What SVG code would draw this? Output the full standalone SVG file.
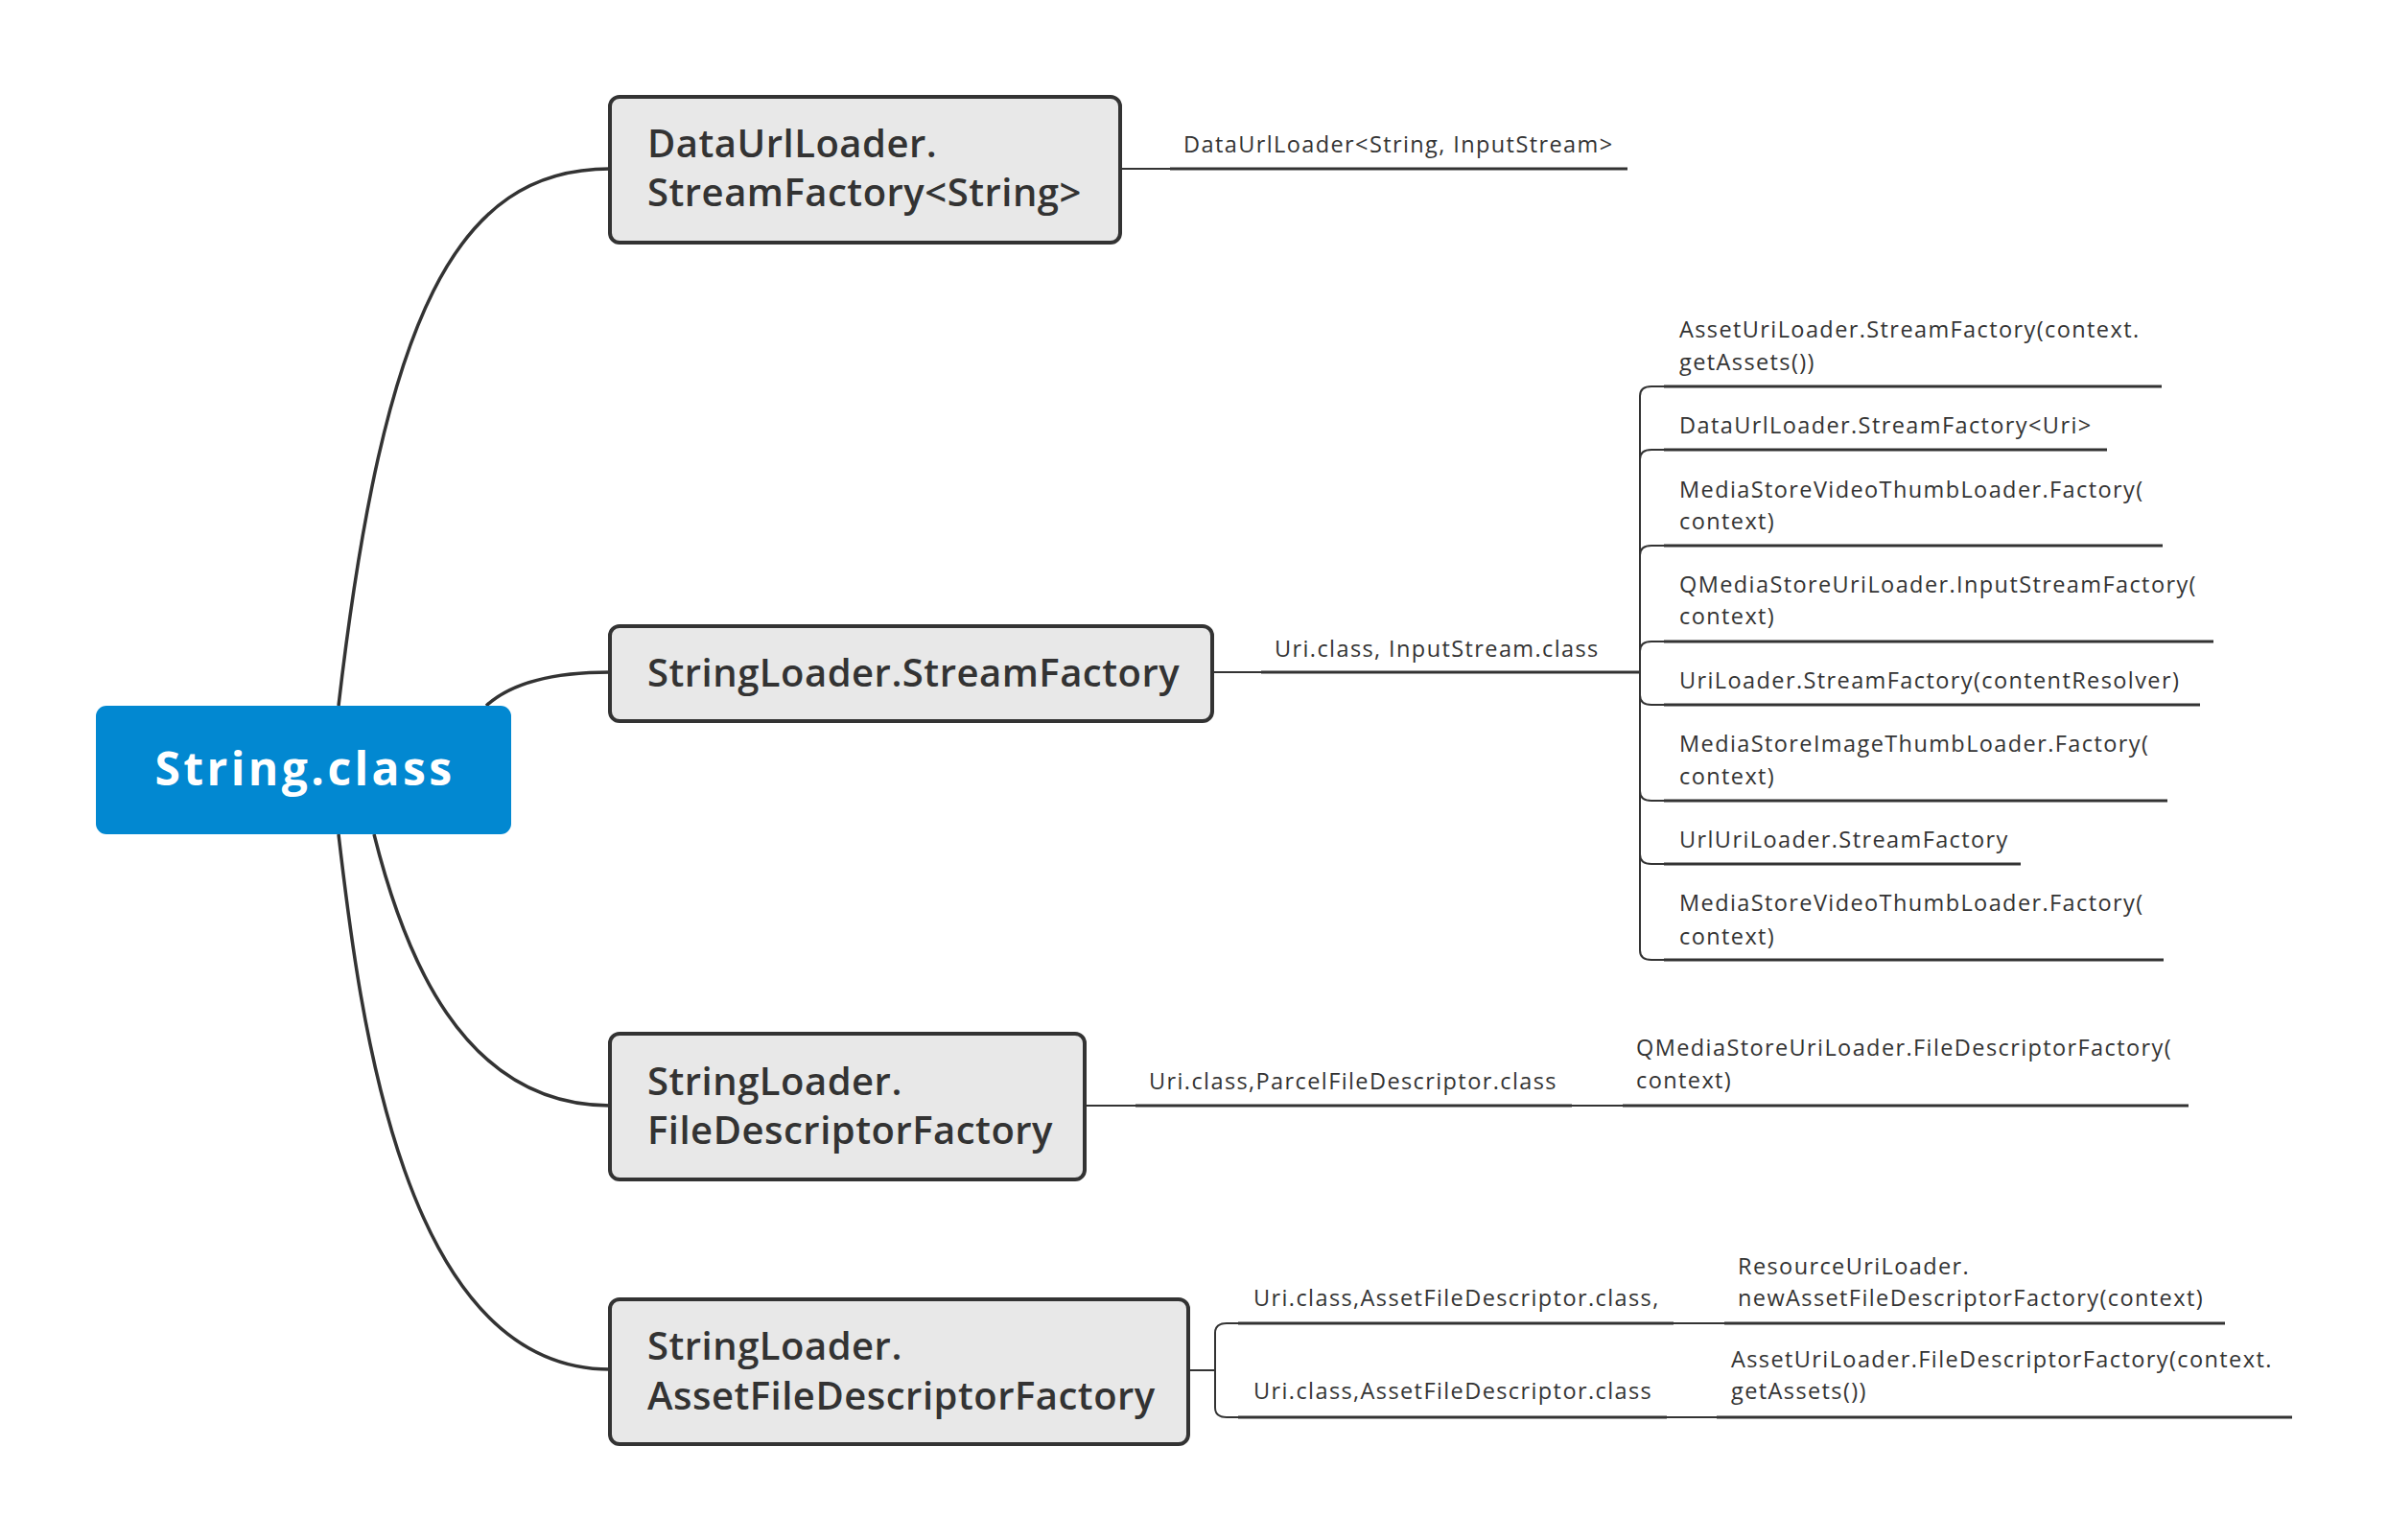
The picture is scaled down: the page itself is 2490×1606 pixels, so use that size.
<svg xmlns="http://www.w3.org/2000/svg" width="2490" height="1606" viewBox="0 0 2490 1606">
<style>
.node rect{fill:#e8e8e8;stroke:#333;stroke-width:4}
.nt{font-family:"Open Sans","Noto Sans",sans-serif;font-size:40px;font-weight:600;letter-spacing:0.5px;fill:#333}
.rt{font-family:"Open Sans","Noto Sans",sans-serif;font-size:48px;font-weight:700;letter-spacing:3.4px;fill:#fff}
.lt{font-family:"Open Sans","Noto Sans",sans-serif;font-size:23.5px;letter-spacing:1.4px;fill:#333}
.main{fill:none;stroke:#333;stroke-width:3.5}
.thin{fill:none;stroke:#333;stroke-width:2}
.ul{fill:none;stroke:#333;stroke-width:3}
</style>
<rect width="2490" height="1606" fill="#fff"/>
<g id="connectors">
<path class="main" d="M353,736 C400,330 475,176 636,176"/>
<path class="main" d="M507,736 Q545,701 636,701"/>
<path class="main" d="M390,870 C420,990 480,1153 636,1153"/>
<path class="main" d="M353,870 C375,1060 420,1428 636,1428"/>
<path class="thin" d="M1168,176 H1220"/>
<path class="ul" d="M1220,176 H1697"/>
<path class="thin" d="M1264,701 H1315"/>
<path class="ul" d="M1315,701 H1710"/>
<path class="thin" d="M1710,701 V413 Q1710,403 1722,403 H1735"/>
<path class="thin" d="M1710,701 V479 Q1710,469 1722,469 H1735"/>
<path class="thin" d="M1710,701 V579 Q1710,569 1722,569 H1735"/>
<path class="thin" d="M1710,701 V679 Q1710,669 1722,669 H1735"/>
<path class="thin" d="M1710,701 V725 Q1710,735 1722,735 H1735"/>
<path class="thin" d="M1710,701 V825 Q1710,835 1722,835 H1735"/>
<path class="thin" d="M1710,701 V891 Q1710,901 1722,901 H1735"/>
<path class="thin" d="M1710,701 V991 Q1710,1001 1722,1001 H1735"/>
<path class="ul" d="M1735,403 H2254"/>
<path class="ul" d="M1735,469 H2197"/>
<path class="ul" d="M1735,569 H2255"/>
<path class="ul" d="M1735,669 H2308"/>
<path class="ul" d="M1735,735 H2294"/>
<path class="ul" d="M1735,835 H2260"/>
<path class="ul" d="M1735,901 H2107"/>
<path class="ul" d="M1735,1001 H2256"/>
<path class="thin" d="M1131,1153 H1184"/>
<path class="ul" d="M1184,1153 H1639"/>
<path class="thin" d="M1639,1153 H1692"/>
<path class="ul" d="M1692,1153 H2282"/>
<path class="thin" d="M1239,1429 H1267"/>
<path class="thin" d="M1267,1429 V1390 Q1267,1380 1279,1380 H1291"/>
<path class="thin" d="M1267,1429 V1468 Q1267,1478 1279,1478 H1291"/>
<path class="ul" d="M1291,1380 H1745"/>
<path class="thin" d="M1745,1380 H1798"/>
<path class="ul" d="M1798,1380 H2320"/>
<path class="ul" d="M1291,1478 H1738"/>
<path class="thin" d="M1738,1478 H1790"/>
<path class="ul" d="M1790,1478 H2390"/>
</g>
<g id="root">
<rect x="100" y="736" width="433" height="134" rx="11" fill="#0288d1"/>
<text class="rt" x="318" y="819" text-anchor="middle">String.class</text>
</g>
<g id="n1" class="node">
<rect x="636" y="101" width="532" height="152" rx="10"/>
<text class="nt"><tspan x="675" y="164">DataUrlLoader.</tspan><tspan x="675" y="215">StreamFactory&lt;String&gt;</tspan></text>
</g>
<g id="n2" class="node">
<rect x="636" y="653" width="628" height="99" rx="10"/>
<text class="nt" x="675" y="716">StringLoader.StreamFactory</text>
</g>
<g id="n3" class="node">
<rect x="636" y="1078" width="495" height="152" rx="10"/>
<text class="nt"><tspan x="675" y="1142">StringLoader.</tspan><tspan x="675" y="1193">FileDescriptorFactory</tspan></text>
</g>
<g id="n4" class="node">
<rect x="636" y="1355" width="603" height="151" rx="10"/>
<text class="nt"><tspan x="675" y="1418">StringLoader.</tspan><tspan x="675" y="1470">AssetFileDescriptorFactory</tspan></text>
</g>
<g id="labels">
<text class="lt" x="1234" y="159">DataUrlLoader&lt;String, InputStream&gt;</text>
<text class="lt" x="1329" y="685">Uri.class, InputStream.class</text>
<text class="lt" x="1198" y="1136">Uri.class,ParcelFileDescriptor.class</text>
<text class="lt" x="1307" y="1362">Uri.class,AssetFileDescriptor.class,</text>
<text class="lt" x="1307" y="1459">Uri.class,AssetFileDescriptor.class</text>
</g>
<g id="leaves">
<text class="lt"><tspan x="1751" y="352">AssetUriLoader.StreamFactory(context.</tspan><tspan x="1751" y="386">getAssets())</tspan></text>
<text class="lt" x="1751" y="452">DataUrlLoader.StreamFactory&lt;Uri&gt;</text>
<text class="lt"><tspan x="1751" y="519">MediaStoreVideoThumbLoader.Factory(</tspan><tspan x="1751" y="552">context)</tspan></text>
<text class="lt"><tspan x="1751" y="618">QMediaStoreUriLoader.InputStreamFactory(</tspan><tspan x="1751" y="651">context)</tspan></text>
<text class="lt" x="1751" y="718">UriLoader.StreamFactory(contentResolver)</text>
<text class="lt"><tspan x="1751" y="784">MediaStoreImageThumbLoader.Factory(</tspan><tspan x="1751" y="818">context)</tspan></text>
<text class="lt" x="1751" y="884">UrlUriLoader.StreamFactory</text>
<text class="lt"><tspan x="1751" y="950">MediaStoreVideoThumbLoader.Factory(</tspan><tspan x="1751" y="985">context)</tspan></text>
<text class="lt"><tspan x="1706" y="1101">QMediaStoreUriLoader.FileDescriptorFactory(</tspan><tspan x="1706" y="1135">context)</tspan></text>
<text class="lt"><tspan x="1812" y="1329">ResourceUriLoader.</tspan><tspan x="1812" y="1362">newAssetFileDescriptorFactory(context)</tspan></text>
<text class="lt"><tspan x="1805" y="1426">AssetUriLoader.FileDescriptorFactory(context.</tspan><tspan x="1805" y="1459">getAssets())</tspan></text>
</g>
</svg>
